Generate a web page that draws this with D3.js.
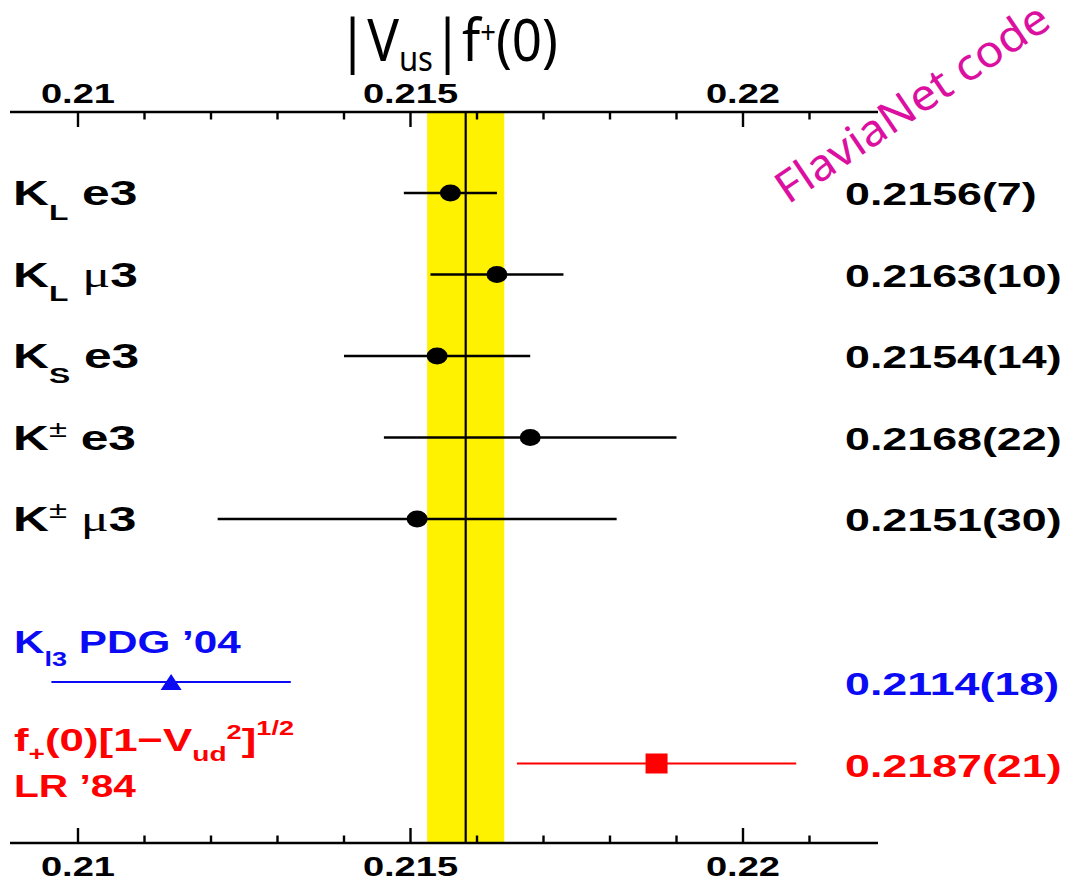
<!DOCTYPE html>
<html>
<head>
<meta charset="utf-8">
<script src="https://cdn.jsdelivr.net/npm/d3@7"></script>
<style>
  body { margin: 0; background: #fff; }
  svg { display: block; }
</style>
</head>
<body>
<svg id="chart" width="1068" height="883"></svg>
<script>
// ---- Measurements of |Vus| f+(0) per channel ----
const channels = ["KL e3", "KL mu3", "KS e3", "K+- e3", "K+- mu3"];
const channelLabels = [
  [["K"], ["L", "sub"], [" e3"]],
  [["K"], ["L", "sub"], [" "], ["\u03bc", "sym"], ["3"]],
  [["K"], ["S", "sub"], [" e3"]],
  [["K"], ["\u00b1", "supthin"], [" e3"]],
  [["K"], ["\u00b1", "supthin"], [" "], ["\u03bc", "sym"], ["3"]]
];
const channelValues = [0.2156, 0.2163, 0.2154, 0.2168, 0.2151];
const channelErrors = [0.0007, 0.0010, 0.0014, 0.0022, 0.0030];
const channelValueText = ["0.2156(7)", "0.2163(10)", "0.2154(14)", "0.2168(22)", "0.2151(30)"];
const channelRows = [0, 1, 2, 3, 4];

// ---- Older reference determinations ----
const refNames = ["PDG04", "LR84"];
const refValues = [0.2114, 0.2187];
const refErrors = [0.0018, 0.0021];
const refValueText = ["0.2114(18)", "0.2187(21)"];
const refRows = [6, 7];
const refColors = ["#0a0af5", "#ff0000"];

// ---- Average band ----
const avgValue = 0.21583;
const avgError = 0.00058;

// ---- Axis ticks ----
const majorTicks = [0.21, 0.215, 0.22];
const minorTicks = [0.211, 0.212, 0.213, 0.214, 0.216, 0.217, 0.218, 0.219, 0.221];
const tickLabels = ["0.21", "0.215", "0.22"];

const svg = d3.select("#chart");
const FONT = "'Liberation Sans', Arial, Helvetica, sans-serif";
const HAND = "'Noto Sans', 'Open Sans', sans-serif";

const x = d3.scaleLinear().domain([0.209, 0.222]).range([11.5, 876]);
const y = d3.scaleLinear().domain([0, 7]).range([193, 763.5]);
const yTop = 112, yBottom = 843;

// average band and central value
svg.append("rect")
  .attr("x", x(avgValue - avgError))
  .attr("width", x(avgValue + avgError) - x(avgValue - avgError))
  .attr("y", yTop).attr("height", yBottom - yTop)
  .attr("fill", "#fff200");
svg.append("line")
  .attr("x1", x(avgValue)).attr("x2", x(avgValue))
  .attr("y1", yTop).attr("y2", yBottom)
  .attr("stroke", "#000").attr("stroke-width", 2.2);

// axes: ticks drawn inward on both frames
function drawAxis(yPos, dir) {
  const g = svg.append("g");
  g.append("line").attr("x1", 10).attr("x2", 878)
    .attr("y1", yPos).attr("y2", yPos)
    .attr("stroke", "#000").attr("stroke-width", 2.6);
  g.selectAll(".maj").data(majorTicks).join("line")
    .attr("x1", d => x(d)).attr("x2", d => x(d))
    .attr("y1", yPos).attr("y2", yPos + dir * 15)
    .attr("stroke", "#000").attr("stroke-width", 2.4);
  g.selectAll(".min").data(minorTicks).join("line")
    .attr("x1", d => x(d)).attr("x2", d => x(d))
    .attr("y1", yPos).attr("y2", yPos + dir * 7.5)
    .attr("stroke", "#000").attr("stroke-width", 2.4);
  return g;
}
drawAxis(yTop, 1);
drawAxis(yBottom, -1);

function stretchedText(parent, px, py, sx, opts) {
  const g = parent.append("g").attr("transform", `translate(${px},${py}) scale(${sx},1)`);
  const t = g.append("text")
    .attr("font-family", opts.family || FONT)
    .attr("font-weight", opts.weight || "bold")
    .attr("font-size", opts.size)
    .attr("fill", opts.color || "#000")
    .attr("text-anchor", opts.anchor || "start");
  return t;
}

// tick labels
majorTicks.forEach((d, i) => {
  stretchedText(svg, x(d), 103, 1.36, { size: 28, anchor: "middle" }).text(tickLabels[i]);
  stretchedText(svg, x(d), 876, 1.36, { size: 28, anchor: "middle" }).text(tickLabels[i]);
});

// rich text with sub/superscripts
function rich(t, parts, base) {
  let shift = 0;
  parts.forEach(([s, kind]) => {
    const ts = t.append("tspan").text(s);
    let target = 0;
    if (kind === "sub") { ts.attr("font-size", base * 0.64); target = base * 0.42; }
    else if (kind === "subhi") { ts.attr("font-size", base * 0.64); target = base * 0.3; }
    else if (kind === "sup") { ts.attr("font-size", base * 0.62); target = -base * 0.36; }
    else if (kind === "supthin") {
      ts.attr("font-size", base * 0.66).attr("font-weight", "normal"); target = -base * 0.36;
    }
    else if (kind === "sup2") { ts.attr("font-size", base * 0.62); target = -base * 0.5; }
    else if (kind === "sym") {
      ts.attr("font-family", "'Liberation Serif', 'DejaVu Serif', serif")
        .attr("font-weight", "normal").attr("font-size", base * 1.05);
    }
    ts.attr("dy", target - shift);
    shift = target;
  });
}

// channel labels, error bars, markers, values
channels.forEach((c, i) => {
  const yy = y(channelRows[i]);
  const t = stretchedText(svg, 13, yy + 12, 1.42, { size: 35 });
  rich(t, channelLabels[i], 35);

  svg.append("line")
    .attr("x1", x(channelValues[i] - channelErrors[i]))
    .attr("x2", x(channelValues[i] + channelErrors[i]))
    .attr("y1", yy).attr("y2", yy)
    .attr("stroke", "#000").attr("stroke-width", 2.4);
  svg.append("ellipse")
    .attr("cx", x(channelValues[i])).attr("cy", yy)
    .attr("rx", 10.5).attr("ry", 8.5).attr("fill", "#000");

  stretchedText(svg, 845, yy + 12, 1.4, { size: 32 }).text(channelValueText[i]);
});

// reference entries
const refLabelParts = [
  [[["K"], ["l3", "sub"], [" PDG \u201904"]]],
  [[["f"], ["+", "subhi"], ["(0)[1\u2212V"], ["ud", "subhi"], ["2", "sup"], ["]"], ["1/2", "sup2"]],
   [["LR \u201984"]]]
];
const refLabelBaselines = [[653], [751, 797]];
const refLabelStretch = [[1.32], [1.37, 1.27]];

refNames.forEach((n, i) => {
  const yy = y(refRows[i]);
  const col = refColors[i];
  refLabelParts[i].forEach((line, j) => {
    const t = stretchedText(svg, 14, refLabelBaselines[i][j], refLabelStretch[i][j], { size: 32, color: col });
    rich(t, line, 32);
  });
  svg.append("line")
    .attr("x1", x(refValues[i] - refErrors[i]))
    .attr("x2", x(refValues[i] + refErrors[i]))
    .attr("y1", yy).attr("y2", yy)
    .attr("stroke", col).attr("stroke-width", 2);
  const cx = x(refValues[i]);
  if (i === 0) {
    svg.append("path")
      .attr("d", `M${cx - 10.5},${yy + 8}L${cx + 10.5},${yy + 8}L${cx},${yy - 8}Z`)
      .attr("fill", col);
  } else {
    svg.append("rect")
      .attr("x", cx - 11).attr("y", yy - 10).attr("width", 22).attr("height", 20)
      .attr("fill", col);
  }
  stretchedText(svg, 845, yy + 13, 1.4, { size: 32, color: col }).text(refValueText[i]);
});

// title |Vus| f+(0)
function fitTo(t, width) {
  const w = t.node().getBBox().width;
  return width / w;
}
{
  const g = svg.append("g");
  const t = g.append("text")
    .attr("font-family", HAND).attr("font-size", 58).attr("fill", "#000");
  t.append("tspan").text("|V");
  t.append("tspan").text("us").attr("font-size", 34).attr("dy", 10);
  t.append("tspan").text("|f").attr("dy", -10);
  t.append("tspan").text("+").attr("font-size", 30).attr("dy", -18);
  t.append("tspan").text("(0)").attr("dy", 18);
  const s = fitTo(t, 220);
  g.attr("transform", `translate(338,61) scale(${s},1)`);
}

// watermark
{
  const g = svg.append("g");
  const t = g.append("text")
    .attr("font-family", HAND).attr("font-size", 44).attr("fill", "#dc10a0")
    .text("FlaviaNet code");
  const s = fitTo(t, 320);
  g.attr("transform", `translate(788,205) rotate(-34) scale(${s},1)`);
}
</script>
</body>
</html>
